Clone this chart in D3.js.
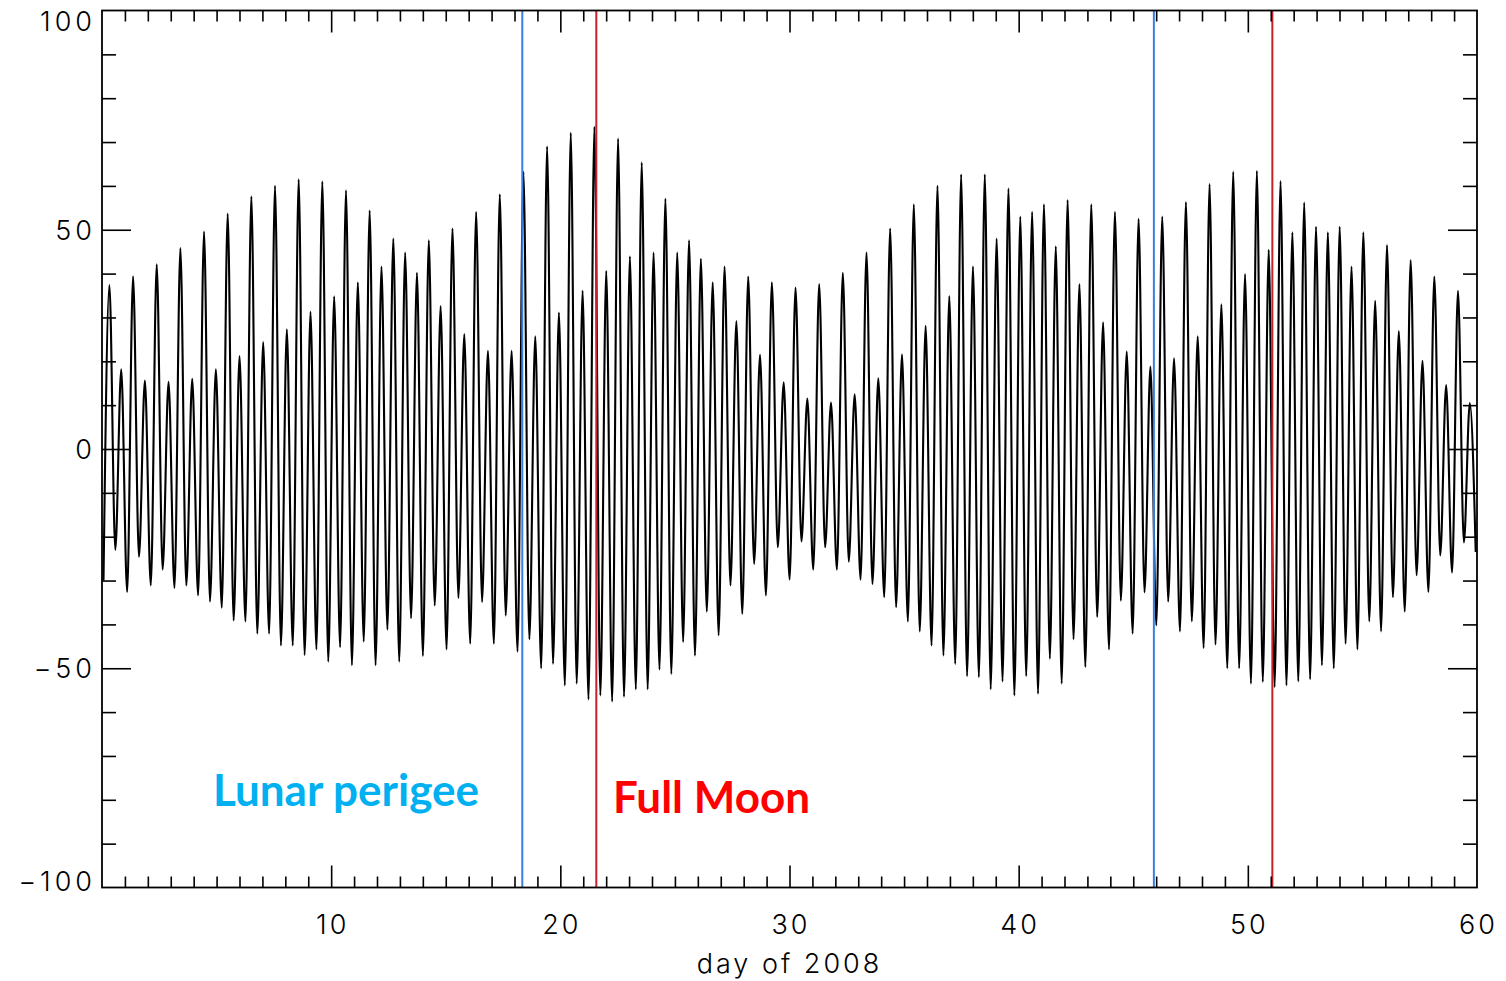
<!DOCTYPE html>
<html>
<head>
<meta charset="utf-8">
<script src="https://cdn.jsdelivr.net/npm/d3@7"></script>
<style>
  html, body { margin: 0; padding: 0; background: #ffffff; }
  svg { display: block; }
</style>
</head>
<body>
<svg id="chart" width="1506" height="981"></svg>
<script>
// Tick values and labels
const xTickValues = [10, 20, 30, 40, 50, 60];
const xTickLabels = ["10", "20", "30", "40", "50", "60"];
const yTickValues = [-100, -50, 0, 50, 100];
const yTickLabels = ["\u2212100", "\u221250", "0", "50", "100"];

// Successive low and high water levels (alternating, low first)
const lowValues = [
  -30, -23, -32.6, -24.6, -31.1, -27.5, -31.7, -31.1, -33.4, -34.8,
  -36.2, -39.1, -39.3, -42.1, -42.1, -44.8, -44.8, -47, -45.7, -48.5,
  -45.2, -49.3, -43.9, -49.3, -41.2, -48.5, -38.6, -47.2, -35.7, -45.7,
  -34.0, -44.4, -34.9, -44.4, -38.0, -46.2, -43.4, -50, -49, -53.9,
  -53.5, -57.1, -56.2, -57.6, -56.5, -54.8, -54.8, -50.3, -51.3, -44.0,
  -47.1, -37.1, -42.5, -31.1, -37.6, -26.2, -33.4, -22.4, -29.8,
  -21.1, -27.5, -22.4, -27.5, -25.7, -29.8, -30.8, -33.8, -36.1, -39.3,
  -41.6, -44.8, -47.1, -49.0, -51.8, -52.0, -54.8, -53.0, -56.2,
  -51.8, -55.8, -47.8, -53.5, -43.4, -49.7, -38.3, -45.7, -34.6, -42.1,
  -32.7, -40.2, -34.8, -41.6, -39.3, -45.4, -44.6, -50.0, -50.0, -53.5,
  -53.1, -54.3, -53.9, -53.0, -52.5, -49.3, -50.0, -44.4, -45.7, -39.3,
  -41.6, -33.8, -37.1, -28.8, -32.6, -24.3, -28.2, -21.3, -23.5
];
const highValues = [
  37.4, 18.2, 39.4, 15.6, 42.1, 15.3, 45.8, 16, 49.6, 18.2,
  53.7, 21.2, 57.6, 24.4, 60, 27.3, 61.5, 31.3, 61, 34.8,
  59.0, 38.0, 54.4, 41.6, 48.0, 44.8, 40.2, 47.6, 32.6, 50.3,
  26.2, 54.1, 22.4, 58.1, 22.4, 63.2, 25.7, 69.0, 31.1,
  72.1, 36.1, 73.5, 40.6, 70.8, 43.9, 65.3, 44.8, 57.1, 44.8,
  47.6, 43.4, 38.0, 41.6, 29.2, 39.3, 21.5, 38.0, 15.2, 36.8,
  11.5, 37.6, 10.6, 40.2, 12.5, 44.8, 16.1, 50.3, 21.6, 55.8,
  28.1, 60.0, 34.9, 62.6, 41.6, 62.6, 48.0, 59.4, 53.0,
  54.1, 55.8, 46.2, 56.8, 37.6, 55.8, 28.9, 54.1, 22.2, 52.5,
  18.8, 53.0, 20.7, 56.3, 25.7, 60.4, 33.0, 63.2, 39.9,
  63.4, 45.4, 61.1, 49.4, 56.2, 50.7, 49.4, 50.7, 41.6, 49.4,
  33.8, 46.5, 26.9, 43.1, 20.1, 39.3, 14.6, 36.1, 10.5
];
// Time of the first low and spacing between successive extremes (days)
const firstExtremeDay = 0.065;
const halfCycleDays = 0.2581;

// Event dates (day of 2008)
const perigeeDays = [18.34, 45.9];
const fullMoonDays = [21.57, 51.07];

const svg = d3.select("#chart");
const plotLeft = 102, plotRight = 1477, plotTop = 10.5, plotBottom = 887.5;

const x = d3.scaleLinear().domain([0, 60]).range([plotLeft, plotRight]);
const y = d3.scaleLinear().domain([-100, 100]).range([plotBottom, plotTop]);

// Interleave lows and highs into one time series
const series = [];
for (let i = 0; i < lowValues.length; i++) {
  series.push(lowValues[i]);
  if (i < highValues.length) series.push(highValues[i]);
}
const points = series.map((v, k) => ({ day: firstExtremeDay + k * halfCycleDays, value: v }));

const tickFont = "Inter, 'DejaVu Sans', sans-serif";

// Clip for the signal
svg.append("clipPath").attr("id", "plotClip")
  .append("rect").attr("x", plotLeft).attr("y", plotTop)
  .attr("width", plotRight - plotLeft).attr("height", plotBottom - plotTop);

// Water level trace
const line = d3.line()
  .x(d => x(d.day))
  .y(d => y(d.value))
  .curve(d3.curveMonotoneX);

svg.append("path")
  .datum(points)
  .attr("clip-path", "url(#plotClip)")
  .attr("fill", "none")
  .attr("stroke", "#000")
  .attr("stroke-width", 2.1)
  .attr("stroke-linejoin", "miter")
  .attr("d", line);

// Perigee and full moon markers
svg.selectAll(".perigee").data(perigeeDays).enter().append("line")
  .attr("class", "perigee")
  .attr("x1", d => x(d)).attr("x2", d => x(d))
  .attr("y1", plotTop).attr("y2", plotBottom)
  .attr("stroke", "#3a7ee0").attr("stroke-width", 2);

svg.selectAll(".fullmoon").data(fullMoonDays).enter().append("line")
  .attr("class", "fullmoon")
  .attr("x1", d => x(d)).attr("x2", d => x(d))
  .attr("y1", plotTop).attr("y2", plotBottom)
  .attr("stroke", "#c8202a").attr("stroke-width", 2);

// Axes: ticks point inward on all four sides
const xMinor = d3.range(1, 60).filter(d => d % 10 !== 0);
const yMinor = d3.range(-90, 100, 10).filter(d => d % 50 !== 0);

function addTicks(g, axis) {
  g.call(axis);
  g.select(".domain").remove();
  g.selectAll("line").attr("stroke", "#000").attr("stroke-width", 1.6);
}

// bottom
addTicks(svg.append("g").attr("transform", `translate(0,${plotBottom})`),
  d3.axisTop(x).tickValues(xMinor).tickSize(11).tickFormat(""));
addTicks(svg.append("g").attr("transform", `translate(0,${plotBottom})`),
  d3.axisTop(x).tickValues(xTickValues.slice(0, 5)).tickSize(22).tickFormat(""));
// top
addTicks(svg.append("g").attr("transform", `translate(0,${plotTop})`),
  d3.axisBottom(x).tickValues(xMinor).tickSize(11).tickFormat(""));
addTicks(svg.append("g").attr("transform", `translate(0,${plotTop})`),
  d3.axisBottom(x).tickValues(xTickValues.slice(0, 5)).tickSize(22).tickFormat(""));
// left
addTicks(svg.append("g").attr("transform", `translate(${plotLeft},0)`),
  d3.axisRight(y).tickValues(yMinor).tickSize(14).tickFormat(""));
addTicks(svg.append("g").attr("transform", `translate(${plotLeft},0)`),
  d3.axisRight(y).tickValues([-50, 0, 50]).tickSize(29).tickFormat(""));
// right
addTicks(svg.append("g").attr("transform", `translate(${plotRight},0)`),
  d3.axisLeft(y).tickValues(yMinor).tickSize(14).tickFormat(""));
addTicks(svg.append("g").attr("transform", `translate(${plotRight},0)`),
  d3.axisLeft(y).tickValues([-50, 0, 50]).tickSize(29).tickFormat(""));

// Frame
svg.append("rect")
  .attr("x", plotLeft).attr("y", plotTop)
  .attr("width", plotRight - plotLeft).attr("height", plotBottom - plotTop)
  .attr("fill", "none").attr("stroke", "#000").attr("stroke-width", 1.8);

// Tick labels
svg.append("g").selectAll("text").data(xTickValues).enter().append("text")
  .attr("x", d => x(d) + 1.5)
  .attr("y", 934)
  .attr("text-anchor", "middle")
  .attr("font-family", tickFont)
  .attr("font-weight", 300)
  .attr("font-size", 27)
  .attr("letter-spacing", 3)
  .attr("fill", "#000")
  .text((d, i) => xTickLabels[i]);

const yLabelShift = { "-100": -7, "100": 10 };
svg.append("g").selectAll("text").data(yTickValues).enter().append("text")
  .attr("x", 96)
  .attr("y", d => y(d) + 10 + (yLabelShift[d] || 0))
  .attr("text-anchor", "end")
  .attr("font-family", tickFont)
  .attr("font-weight", 300)
  .attr("font-size", 27)
  .attr("letter-spacing", 4)
  .attr("fill", "#000")
  .text((d, i) => yTickLabels[i]);

// Axis title
svg.append("text")
  .attr("x", x(30))
  .attr("y", 973)
  .attr("text-anchor", "middle")
  .attr("font-family", tickFont)
  .attr("font-weight", 300)
  .attr("font-size", 27)
  .attr("letter-spacing", 3)
  .attr("fill", "#000")
  .text("day of 2008");

// Event annotations
svg.append("text")
  .attr("x", 213).attr("y", 806)
  .attr("font-family", "Lato, 'Open Sans', sans-serif")
  .attr("font-weight", 700)
  .attr("font-size", 44)
  .attr("fill", "#00b0f0")
  .text("Lunar perigee");

svg.append("text")
  .attr("x", 613).attr("y", 813)
  .attr("font-family", "Lato, 'Open Sans', sans-serif")
  .attr("font-weight", 700)
  .attr("font-size", 44)
  .attr("fill", "#ff0000")
  .text("Full Moon");
</script>
</body>
</html>
